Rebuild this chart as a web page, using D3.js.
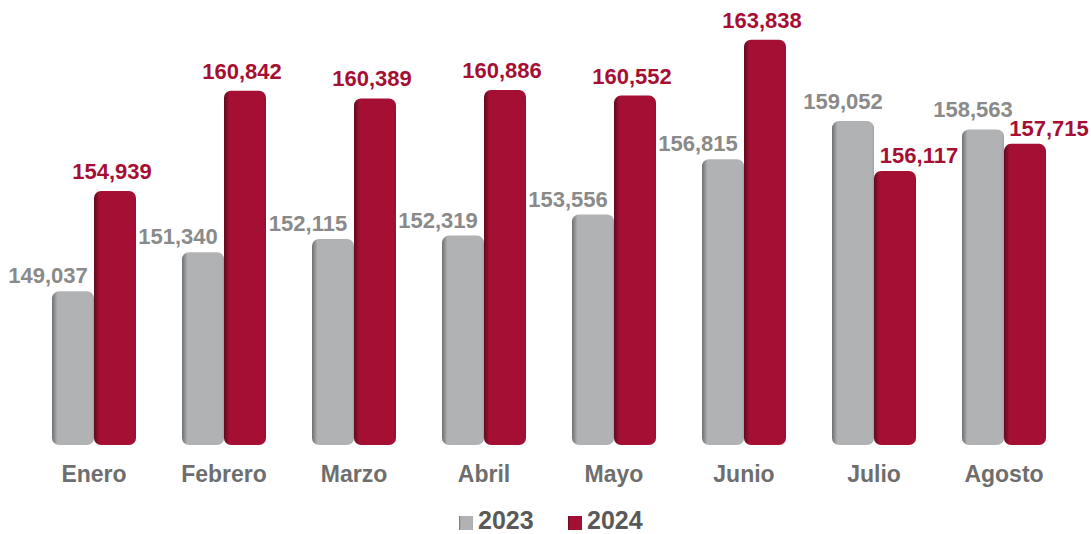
<!DOCTYPE html>
<html>
<head>
<meta charset="utf-8">
<script src="https://cdn.jsdelivr.net/npm/d3@7"></script>
<style>
  body { margin: 0; background: #fff; }
  svg { display: block; font-family: "Liberation Sans", Arial, sans-serif; }
</style>
</head>
<body>
<div id="chart"></div>
<script>
var months = ["Enero", "Febrero", "Marzo", "Abril", "Mayo", "Junio", "Julio", "Agosto"];
var years = ["2023", "2024"];
var values2023 = [149037, 151340, 152115, 152319, 153556, 156815, 159052, 158563];
var values2024 = [154939, 160842, 160389, 160886, 160552, 163838, 156117, 157715];

var svgWidth = 1091;
var svgHeight = 534;

var colors = { "2023": "#b1b2b4", "2024": "#a50f34" };
var shade = { "2023": "#6e6f71", "2024": "#5c0a1e" };
var labelColors = { "2023": "#8a8a8a", "2024": "#a50f34" };

var svg = d3.select("#chart")
  .append("svg")
  .attr("width", svgWidth)
  .attr("height", svgHeight);

// left-edge bevel like the excel bars
var defs = svg.append("defs");
years.forEach(function(yr) {
  var g = defs.append("linearGradient")
    .attr("id", "grad" + yr)
    .attr("x1", "0").attr("x2", "1").attr("y1", "0").attr("y2", "0");
  g.append("stop").attr("offset", "0%").attr("stop-color", shade[yr]);
  g.append("stop").attr("offset", "13%").attr("stop-color", colors[yr]);
  g.append("stop").attr("offset", "95%").attr("stop-color", colors[yr]);
  g.append("stop").attr("offset", "100%").attr("stop-color", d3.color(colors[yr]).darker(0.3));
});

var x0 = d3.scaleBand()
  .domain(months)
  .range([29, 1069])
  .paddingInner(0.354)
  .paddingOuter(0.177);

var x1 = d3.scaleBand()
  .domain(years)
  .range([0, x0.bandwidth()]);

var y = d3.scaleLinear()
  .domain([140000, 165000])
  .range([445, 20]);

var rows = months.map(function(m, i) {
  return { month: m, i: i, vals: [
    { year: "2023", value: values2023[i] },
    { year: "2024", value: values2024[i] }
  ] };
});

var groups = svg.selectAll("g.month")
  .data(rows)
  .enter()
  .append("g")
  .attr("class", "month")
  .attr("transform", d => `translate(${x0(d.month)},0)`);

groups.selectAll("rect")
  .data(d => d.vals)
  .enter()
  .append("rect")
  .attr("x", d => x1(d.year))
  .attr("y", d => y(d.value))
  .attr("width", x1.bandwidth())
  .attr("height", d => y.range()[0] - y(d.value))
  .attr("rx", 7)
  .attr("fill", d => "url(#grad" + d.year + ")");

// value labels (excel nudged the last two months sideways)
groups.each(function(row) {
  var g = d3.select(this);
  row.vals.forEach(function(d) {
    var late = row.i >= 6;
    var dx, gap;
    if (d.year === "2023") {
      dx = late ? -10 : -25;
      gap = late ? 12 : 8;
    } else {
      dx = late ? 24 : -3;
      gap = late ? 8 : 12;
    }
    g.append("text")
      .attr("x", x1(d.year) + x1.bandwidth() / 2 + dx)
      .attr("y", y(d.value) - gap)
      .attr("text-anchor", "middle")
      .attr("font-size", "22px")
      .attr("font-weight", "bold")
      .attr("fill", labelColors[d.year])
      .text(d3.format(",")(d.value));
  });
});

// category axis
var xAxis = svg.append("g")
  .attr("transform", "translate(0,445)")
  .call(d3.axisBottom(x0).tickSize(0).tickPadding(0));
xAxis.select(".domain").remove();
xAxis.selectAll("text")
  .attr("y", 37)
  .attr("dy", null)
  .attr("font-family", "Liberation Sans, Arial, sans-serif")
  .attr("font-size", "23px")
  .attr("font-weight", "bold")
  .attr("fill", "#6e6e6e");

// legend
var legendPos = { "2023": 459, "2024": 568 };
var legend = svg.selectAll("g.legend")
  .data(years)
  .enter()
  .append("g")
  .attr("class", "legend")
  .attr("transform", d => `translate(${legendPos[d]},516)`);

legend.append("rect")
  .attr("width", 14)
  .attr("height", 14)
  .attr("fill", d => "url(#grad" + d + ")");

legend.append("text")
  .attr("x", 19)
  .attr("y", 13)
  .attr("font-size", "25px")
  .attr("font-weight", "bold")
  .attr("fill", "#595959")
  .text(d => d);
</script>
</body>
</html>
